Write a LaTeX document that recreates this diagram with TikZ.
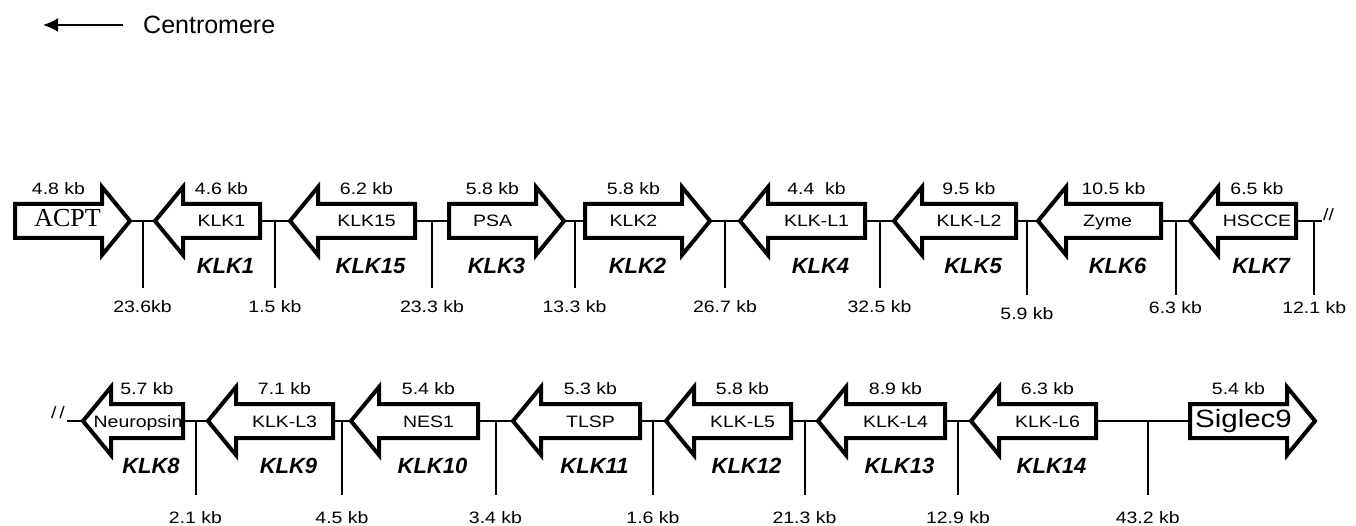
\documentclass[tikz,border=0pt]{standalone}
\usepackage{fontspec}
\setmainfont{Liberation Sans}
\newfontfamily\labfont[FakeStretch=1.18]{Liberation Sans}
\newfontfamily\acptfont{Liberation Serif}
\usetikzlibrary{calc,arrows.meta}

\tikzset{
  gene/.style={draw, line width=4pt, fill=white},
  link/.style={line width=2pt},
  genename/.style={font=\labfont\fontsize{16.5}{18}\selectfont, inner sep=0pt, text height=12pt, text depth=0pt},
  genesize/.style={font=\labfont\fontsize{16.5}{18}\selectfont, anchor=south, inner sep=0pt, yshift=9pt},
  genesym/.style={font=\fontsize{22}{24}\selectfont\bfseries\itshape, inner sep=0pt},
  dist/.style={font=\labfont\fontsize{16.5}{18}\selectfont, below, inner sep=0pt, yshift=-12pt},
}

% gene arrow: [text shift]{name}{tail x}{tip x}{row y}{text}{size}{symbol}
\newcommand{\gene}[8][0]{%
  \pgfmathsetmacro{\hbx}{#4-28*sign(#4-#3)}%
  \pgfmathsetmacro{\mdx}{(#3+\hbx)/2}%
  \draw[gene] (#3,#5-17) -- (\hbx,#5-17) -- (\hbx,#5-34) -- (#4,#5)
    -- (\hbx,#5+34) -- (\hbx,#5+17) -- (#3,#5+17) -- cycle;
  \coordinate (#2-tail) at (#3,#5);
  \coordinate (#2-tip) at (#4,#5);
  \node[genename] (#2) at (\mdx+#1,#5) {#6};
  \node[genesize] (#2-size) at (\mdx,#5-17) {#7};
  \if\relax\detokenize{#8}\relax\else
    \node[genesym] (#2-sym) at (\mdx+4,#5+45) {#8};
  \fi
}

\begin{document}
\begin{tikzpicture}[x=1pt,y=-1pt]
\useasboundingbox (0,0) rectangle (1356,526);

% centromere direction
\node[anchor=west, inner sep=0pt, font=\fontsize{25}{27}\selectfont] (centro) at (143,25) {Centromere};
\coordinate (cen) at (43,25);
\draw[line width=2pt, shorten <=20pt, -{Latex[length=15pt,width=14pt]}] (centro.west) -- (cen);

% first row
\gene[9]{acpt}{15}{130}{221}{{\acptfont\fontsize{26}{28}\selectfont ACPT}}{4.8 kb}{}
\gene{klk1}{260}{155}{221}{KLK1}{4.6 kb}{KLK1}
\gene{klk15}{415}{290}{221}{KLK15}{6.2 kb}{KLK15}
\gene{psa}{449}{564}{221}{PSA}{5.8 kb}{KLK3}
\gene{klk2}{585}{710}{221}{KLK2}{5.8 kb}{KLK2}
\gene{klkl1}{865}{740}{221}{KLK-L1}{4.4\ \ kb}{KLK4}
\gene{klkl2}{1016}{894}{221}{KLK-L2}{9.5 kb}{KLK5}
\gene[-6]{zyme}{1161}{1038}{221}{Zyme}{10.5 kb}{KLK6}
\gene{hscce}{1296}{1190}{221}{HSCCE}{6.5 kb}{KLK7}
\coordinate (end1) at (1322,221);
\node[font=\labfont\fontsize{16.5}{18}\selectfont, anchor=west, inner sep=0pt] (brk1) at (1323,215) {//};

\draw[link] (acpt-tip) -- (klk1-tip) ($(acpt-tip)!0.5!(klk1-tip)$) -- ++(0,67) node[dist] (d1) {23.6kb};
\draw[link] (klk1-tail) -- (klk15-tip) ($(klk1-tail)!0.5!(klk15-tip)$) -- ++(0,67) node[dist] (d2) {1.5 kb};
\draw[link] (klk15-tail) -- (psa-tail) ($(klk15-tail)!0.5!(psa-tail)$) -- ++(0,67) node[dist] (d3) {23.3 kb};
\draw[link] (psa-tip) -- (klk2-tail) ($(psa-tip)!0.5!(klk2-tail)$) -- ++(0,67) node[dist] (d4) {13.3 kb};
\draw[link] (klk2-tip) -- (klkl1-tip) ($(klk2-tip)!0.5!(klkl1-tip)$) -- ++(0,67) node[dist] (d5) {26.7 kb};
\draw[link] (klkl1-tail) -- (klkl2-tip) ($(klkl1-tail)!0.5!(klkl2-tip)$) -- ++(0,67) node[dist] (d6) {32.5 kb};
\draw[link] (klkl2-tail) -- (zyme-tip) ($(klkl2-tail)!0.5!(zyme-tip)$) -- ++(0,74) node[dist] (d7) {5.9 kb};
\draw[link] (zyme-tail) -- (hscce-tip) ($(zyme-tail)!0.5!(hscce-tip)$) -- ++(0,74) node[dist, yshift=6pt] (d8) {6.3 kb};
\draw[link] (hscce-tail) -- (end1) ($(hscce-tail)!0.7!(end1)$) -- ++(0,74) node[dist, yshift=6pt] (d9) {12.1 kb};

% second row
\gene[-9]{neuro}{183}{83}{421}{Neuropsin}{5.7 kb}{KLK8}
\gene{klkl3}{333}{208}{421}{KLK-L3}{7.1 kb}{KLK9}
\gene{nes1}{478}{351}{421}{NES1}{5.4 kb}{KLK10}
\gene{tlsp}{640}{513}{421}{TLSP}{5.3 kb}{KLK11}
\gene{klkl5}{791}{666}{421}{KLK-L5}{5.8 kb}{KLK12}
\gene{klkl4}{945}{818}{421}{KLK-L4}{8.9 kb}{KLK13}
\gene{klkl6}{1096}{971}{421}{KLK-L6}{6.3 kb}{KLK14}
\gene[5]{siglec}{1190}{1315}{421}{{\fontsize{25}{27}\selectfont Siglec9}}{5.4 kb}{}
\coordinate (start2) at (67,421);
\node[font=\labfont\fontsize{16.5}{18}\selectfont, anchor=east, inner sep=0pt] (brk2) at (65,413) {/\,/};

\draw[link] (start2) -- (neuro-tip);
\draw[link] (neuro-tail) -- (klkl3-tip) ($(neuro-tail)!0.5!(klkl3-tip)$) -- ++(0,74) node[dist, yshift=-4pt] (e1) {2.1 kb};
\draw[link] (klkl3-tail) -- (nes1-tip) ($(klkl3-tail)!0.5!(nes1-tip)$) -- ++(0,74) node[dist, yshift=-4pt] (e2) {4.5 kb};
\draw[link] (nes1-tail) -- (tlsp-tip) ($(nes1-tail)!0.5!(tlsp-tip)$) -- ++(0,74) node[dist, yshift=-4pt] (e3) {3.4 kb};
\draw[link] (tlsp-tail) -- (klkl5-tip) ($(tlsp-tail)!0.5!(klkl5-tip)$) -- ++(0,74) node[dist, yshift=-4pt] (e4) {1.6 kb};
\draw[link] (klkl5-tail) -- (klkl4-tip) ($(klkl5-tail)!0.5!(klkl4-tip)$) -- ++(0,74) node[dist, yshift=-4pt] (e5) {21.3 kb};
\draw[link] (klkl4-tail) -- (klkl6-tip) ($(klkl4-tail)!0.5!(klkl6-tip)$) -- ++(0,74) node[dist, yshift=-4pt] (e6) {12.9 kb};
\draw[link] (klkl6-tail) -- (siglec-tail) ($(klkl6-tail)!0.55!(siglec-tail)$) -- ++(0,74) node[dist, yshift=-4pt] (e7) {43.2 kb};
\end{tikzpicture}
\end{document}
